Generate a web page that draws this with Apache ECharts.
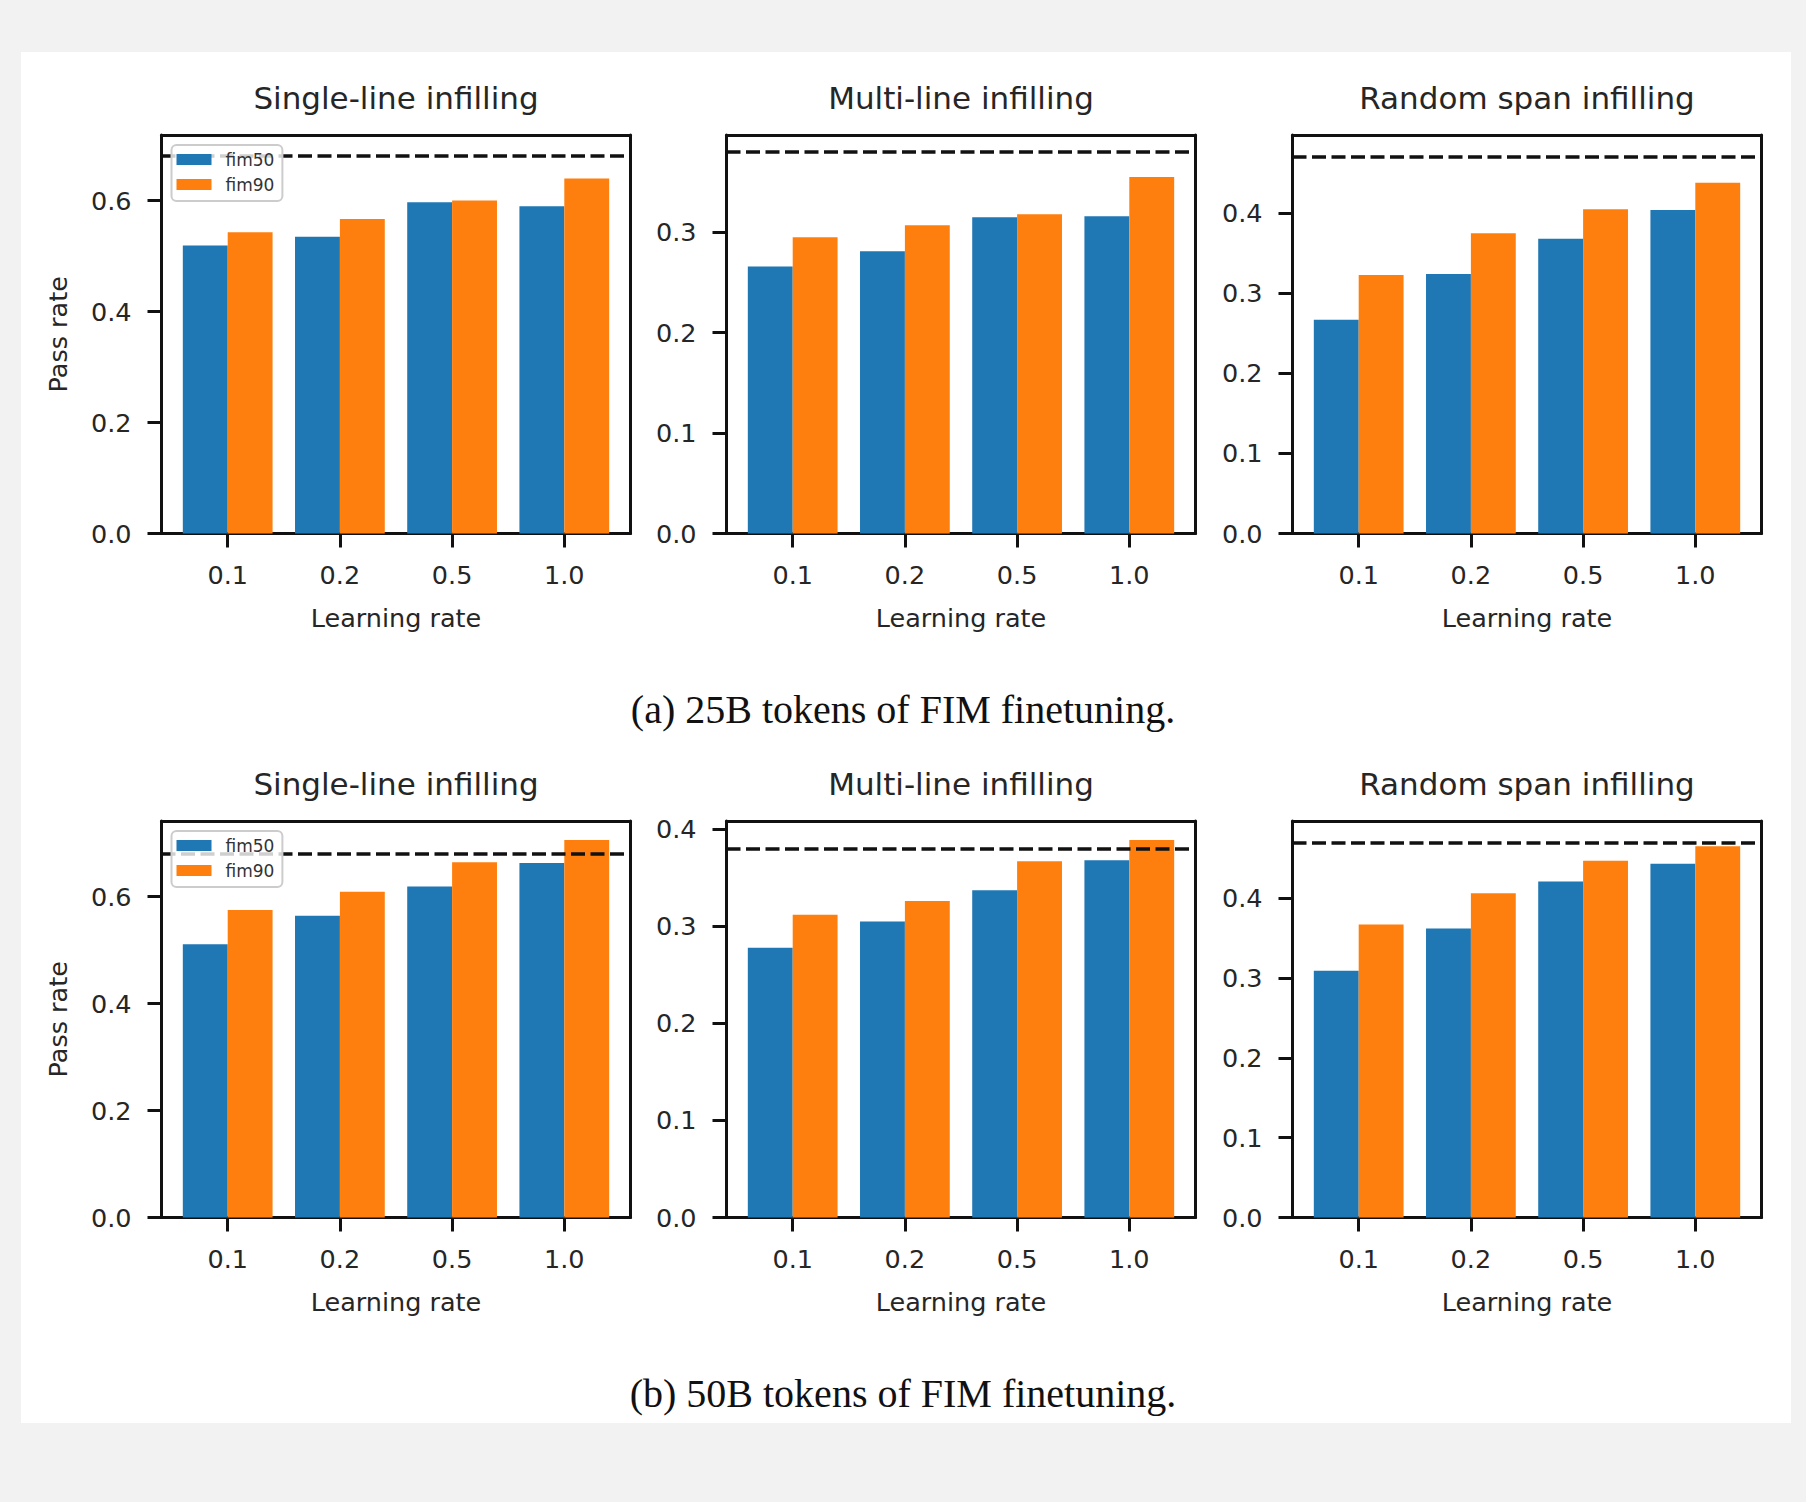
<!DOCTYPE html>
<html>
<head>
<meta charset="utf-8">
<title>FIM finetuning: pass rate vs learning rate</title>
<script src="https://cdn.jsdelivr.net/npm/echarts@6/dist/echarts.min.js"></script>
<style>
  html, body { margin: 0; padding: 0; background: #f2f2f2; }
  #paper { position: absolute; left: 21px; top: 52px; width: 1770px; height: 1371px; background: #ffffff; }
  #chart { position: absolute; left: 0; top: 0; width: 1806px; height: 1502px; }
</style>
</head>
<body>
<div id="paper"></div>
<div id="chart"></div>
<script>
// ---- data ----
const categories = ['0.1', '0.2', '0.5', '1.0'];
const seriesNames = ['fim50', 'fim90'];
const panelTitles = ['Single-line infilling', 'Multi-line infilling', 'Random span infilling'];
const captions = ['(a) 25B tokens of FIM finetuning.', '(b) 50B tokens of FIM finetuning.'];

// 25B tokens of FIM finetuning
const fim50_25B_single = [0.519, 0.535, 0.597, 0.590];
const fim90_25B_single = [0.543, 0.567, 0.600, 0.640];
const fim50_25B_multi  = [0.266, 0.281, 0.315, 0.316];
const fim90_25B_multi  = [0.295, 0.307, 0.318, 0.355];
const fim50_25B_random = [0.267, 0.324, 0.368, 0.404];
const fim90_25B_random = [0.323, 0.375, 0.405, 0.438];
const baseline_25B = [0.684, 0.378, 0.474];

// 50B tokens of FIM finetuning
const fim50_50B_single = [0.511, 0.564, 0.619, 0.663];
const fim90_50B_single = [0.575, 0.609, 0.664, 0.706];
const fim50_50B_multi  = [0.278, 0.305, 0.337, 0.368];
const fim90_50B_multi  = [0.312, 0.326, 0.367, 0.389];
const fim50_50B_random = [0.309, 0.362, 0.421, 0.443];
const fim90_50B_random = [0.367, 0.406, 0.447, 0.465];
const baseline_50B = [0.684, 0.378, 0.473];

// y tick labels per panel
const yTicks_25B = [[0, 0.2, 0.4, 0.6], [0, 0.1, 0.2, 0.3], [0, 0.1, 0.2, 0.3, 0.4]];
const yTicks_50B = [[0, 0.2, 0.4, 0.6], [0, 0.1, 0.2, 0.3, 0.4], [0, 0.1, 0.2, 0.3, 0.4]];

const panels = [
  { fim50: fim50_25B_single, fim90: fim90_25B_single, baseline: baseline_25B[0], ticks: yTicks_25B[0] },
  { fim50: fim50_25B_multi,  fim90: fim90_25B_multi,  baseline: baseline_25B[1], ticks: yTicks_25B[1] },
  { fim50: fim50_25B_random, fim90: fim90_25B_random, baseline: baseline_25B[2], ticks: yTicks_25B[2] },
  { fim50: fim50_50B_single, fim90: fim90_50B_single, baseline: baseline_50B[0], ticks: yTicks_50B[0] },
  { fim50: fim50_50B_multi,  fim90: fim90_50B_multi,  baseline: baseline_50B[1], ticks: yTicks_50B[1] },
  { fim50: fim50_50B_random, fim90: fim90_50B_random, baseline: baseline_50B[2], ticks: yTicks_50B[2] }
];

// ---- layout & style ----
const FRAME_LEFT = [161.5, 726.5, 1292.5];
const FRAME_WIDTH = 469;
const ROW_TOP = [135, 821];
const ROW_HEIGHT = [398.5, 396.5];
// bars sit in unit bands; the frame adds a 0.09-band margin on each side
const INSET = FRAME_WIDTH * 0.09 / 4.18;
const COLORS = ['#1f77b4', '#ff7f0e'];
const SANS = 'DejaVu Sans';
const TEXT = '#262626';
const spine = { color: '#111111', width: 3 };
const tickFont = { fontFamily: SANS, fontSize: 25.5, color: TEXT };

const grids = [], xAxes = [], yAxes = [], series = [], graphics = [];

panels.forEach((p, i) => {
  const row = Math.floor(i / 3), col = i % 3;
  const left = FRAME_LEFT[col], top = ROW_TOP[row], h = ROW_HEIGHT[row];
  const yMax = Math.max(...p.fim50, ...p.fim90, p.baseline) * 1.05;

  // frame grid: spines, y ticks, dashed reference line
  const gF = grids.length;
  grids.push({ left: left, top: top, width: FRAME_WIDTH, height: h });
  // bar grid: categories and bars
  const gB = grids.length;
  grids.push({ left: left + INSET, top: top, width: FRAME_WIDTH - 2 * INSET, height: h });

  const frameX = xAxes.length;
  ['bottom', 'top'].forEach(pos => xAxes.push({
    type: 'value', gridIndex: gF, min: 0, max: 1, position: pos,
    axisLine: { show: true, onZero: false, lineStyle: spine },
    axisTick: { show: false }, axisLabel: { show: false }, splitLine: { show: false }
  }));
  const frameY = yAxes.length;
  yAxes.push({
    type: 'value', gridIndex: gF, min: 0, max: yMax, position: 'left',
    axisLine: { show: true, onZero: false, lineStyle: spine },
    axisTick: { show: true, inside: false, length: 14, customValues: p.ticks, lineStyle: spine },
    axisLabel: { show: true, customValues: p.ticks, margin: 30, formatter: v => v.toFixed(1), ...tickFont },
    splitLine: { show: false },
    name: col === 0 ? 'Pass rate' : '',
    nameLocation: 'middle', nameGap: 91, nameRotate: 90,
    nameTextStyle: { ...tickFont }
  });
  yAxes.push({
    type: 'value', gridIndex: gF, min: 0, max: yMax, position: 'right',
    axisLine: { show: true, onZero: false, lineStyle: spine },
    axisTick: { show: false }, axisLabel: { show: false }, splitLine: { show: false }
  });

  const catX = xAxes.length;
  xAxes.push({
    type: 'category', gridIndex: gB, data: categories, position: 'bottom',
    axisLine: { show: false },
    axisTick: { show: true, alignWithLabel: true, length: 14, lineStyle: spine },
    axisLabel: { margin: 28, ...tickFont },
    name: 'Learning rate', nameLocation: 'middle', nameGap: 71,
    nameTextStyle: { ...tickFont }
  });
  const barY = yAxes.length;
  yAxes.push({ type: 'value', gridIndex: gB, min: 0, max: yMax, show: false, splitLine: { show: false } });

  [p.fim50, p.fim90].forEach((vals, k) => series.push({
    type: 'bar', name: seriesNames[k], xAxisIndex: catX, yAxisIndex: barY,
    data: vals, barWidth: '40%', barGap: '0%',
    itemStyle: { color: COLORS[k] }, z: 2
  }));

  // dashed reference line: above the bars, beneath the legend box
  series.push({
    type: 'line', xAxisIndex: frameX, yAxisIndex: frameY, data: [], z: 3,
    markLine: {
      z: 3, silent: true, symbol: ['none', 'none'], label: { show: false },
      lineStyle: { color: '#111111', width: 3.5, type: [14, 5.5] },
      emphasis: { disabled: true },
      data: [{ yAxis: p.baseline }]
    }
  });

  graphics.push({
    type: 'text', x: left + FRAME_WIDTH / 2, y: top - 37,
    style: {
      text: panelTitles[col], fill: TEXT, font: '31px "DejaVu Sans"',
      align: 'center', verticalAlign: 'middle', textAlign: 'center', textVerticalAlign: 'middle'
    }
  });
});

const CAPTION_Y = [709, 1393.5];
captions.forEach((c, r) => graphics.push({
  type: 'text', x: 903, y: CAPTION_Y[r],
  style: {
    text: c, fill: '#111111', font: '40px "Liberation Serif"',
    align: 'center', verticalAlign: 'middle', textAlign: 'center', textVerticalAlign: 'middle'
  }
}));

const legends = ROW_TOP.map(t => ({
  z: 8,
  data: seriesNames, orient: 'vertical', left: 171.5, top: t + 10,
  icon: 'rect', itemWidth: 35, itemHeight: 11, itemGap: 8,
  padding: [6, 8, 8, 5],
  backgroundColor: 'rgba(255,255,255,0.8)', borderColor: '#cccccc', borderWidth: 2, borderRadius: 5,
  selectedMode: false,
  textStyle: { fontFamily: SANS, fontSize: 17, color: '#333333', padding: [0, 0, 0, 9] }
}));

const chart = echarts.init(document.getElementById('chart'), null, { renderer: 'svg', width: 1806, height: 1502 });
chart.setOption({
  animation: false,
  backgroundColor: 'transparent',
  textStyle: { fontFamily: SANS },
  grid: grids,
  xAxis: xAxes,
  yAxis: yAxes,
  legend: legends,
  series: series,
  graphic: graphics
});
</script>
</body>
</html>
